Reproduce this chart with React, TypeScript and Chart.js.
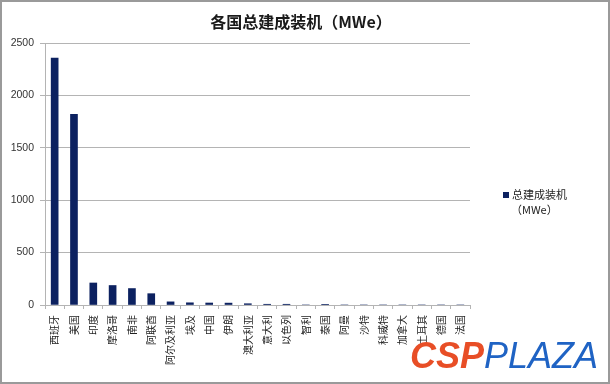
import React, { useEffect, useRef } from "react";
import { Chart, registerables } from "chart.js";

Chart.register(...registerables);

const categories = [
  "西班牙", "美国", "印度", "摩洛哥", "南非", "阿联酋", "阿尔及利亚", "埃及", "中国", "伊朗", "澳大利亚",
  "意大利", "以色列", "智利", "泰国", "阿曼", "沙特", "科威特", "加拿大", "土耳其", "德国", "法国",
];
const installedMWe = [2355, 1820, 210, 186, 157, 108, 30, 21, 19, 18, 12, 7, 7, 0, 6, 0, 0, 0, 0, 0, 0, 0];
const seriesName = "总建成装机（MWe）";
const chartTitle = "各国总建成装机（MWe）";
const yTicks = [0, 500, 1000, 1500, 2000, 2500];

const BAR = "#0c2160";
const GRID = "#b4b4b4";

export default function App() {
  const ref = useRef<HTMLCanvasElement | null>(null);
  useEffect(() => {
    document.body.style.margin = "0";
    const ctx = ref.current!;
    const chart = new Chart(ctx, {
      type: "bar",
      data: {
        labels: categories,
        datasets: [
          {
            label: seriesName,
            data: installedMWe,
            backgroundColor: BAR,
            barThickness: 7,
          },
        ],
      },
      options: {
        animation: false,
        responsive: false,
        maintainAspectRatio: false,
        layout: { padding: { left: 0, right: 140, top: 43, bottom: 0 } },
        plugins: {
          legend: { display: false },
          tooltip: { enabled: false },
          title: { display: false },
        },
        scales: {
          x: {
            grid: {
              display: true,
              drawOnChartArea: false,
              drawTicks: true,
              tickLength: 4,
              color: GRID,
              offset: true,
            },
            border: { display: true, color: GRID },
            ticks: {
              autoSkip: false,
              maxRotation: 90,
              minRotation: 90,
              padding: 6,
              color: "#222",
              font: { family: "'Noto Sans CJK SC', sans-serif", size: 10 },
            },
            afterFit: (scale: any) => {
              scale.height = 79;
            },
          },
          y: {
            min: 0,
            max: 2500,
            afterBuildTicks: (scale: any) => {
              scale.ticks = yTicks.map((v) => ({ value: v }));
            },
            grid: { color: GRID, tickLength: 5, drawTicks: true },
            border: { display: true, color: GRID },
            ticks: {
              padding: 6,
              color: "#333",
              font: { family: "'Liberation Sans', Arial, sans-serif", size: 10.5 },
              callback: (v: any) => String(v),
            },
            afterFit: (scale: any) => {
              scale.width = 45;
            },
          },
        },
      },
    });
    return () => chart.destroy();
  }, []);

  return (
    <div style={{ position: "fixed", left: 0, top: 0, width: 610, height: 384, background: "#fff", overflow: "hidden" }}>
      <canvas ref={ref} width={610} height={384} style={{ position: "absolute", left: 0, top: 0, width: 610, height: 384 }} />
      <div
        style={{
          position: "absolute",
          left: 0,
          top: 11,
          width: 602,
          textAlign: "center",
          fontFamily: "'Noto Sans CJK SC', sans-serif",
          fontSize: 16,
          lineHeight: "20px",
          fontWeight: 700,
          color: "#1a1a1a",
          whiteSpace: "nowrap",
        }}
      >
        {chartTitle}
      </div>
      <div
        style={{
          position: "absolute",
          left: 503,
          top: 187,
          fontFamily: "'Noto Sans CJK SC', sans-serif",
          fontSize: 11,
          lineHeight: "15px",
          color: "#222",
        }}
      >
        <div style={{ display: "flex", alignItems: "center" }}>
          <span style={{ display: "inline-block", width: 6, height: 6, background: BAR, marginRight: 3 }} />
          <span>总建成装机</span>
        </div>
        <div style={{ paddingLeft: 8 }}>（MWe）</div>
      </div>
      <div
        style={{
          position: "absolute",
          left: 410,
          top: 338,
          fontFamily: "'Liberation Sans', Arial, sans-serif",
          fontSize: 36,
          lineHeight: "36px",
          fontStyle: "italic",
          whiteSpace: "nowrap",
        }}
      >
        <span style={{ color: "#e84e26", fontWeight: 900 }}>CSP</span>
        <span style={{ color: "#1f63c4", fontWeight: 400 }}>PLAZA</span>
      </div>
      <div
        style={{
          position: "absolute",
          left: 0,
          top: 0,
          width: 610,
          height: 384,
          boxSizing: "border-box",
          border: "2px solid #9a9a9a",
          pointerEvents: "none",
        }}
      />
    </div>
  );
}
